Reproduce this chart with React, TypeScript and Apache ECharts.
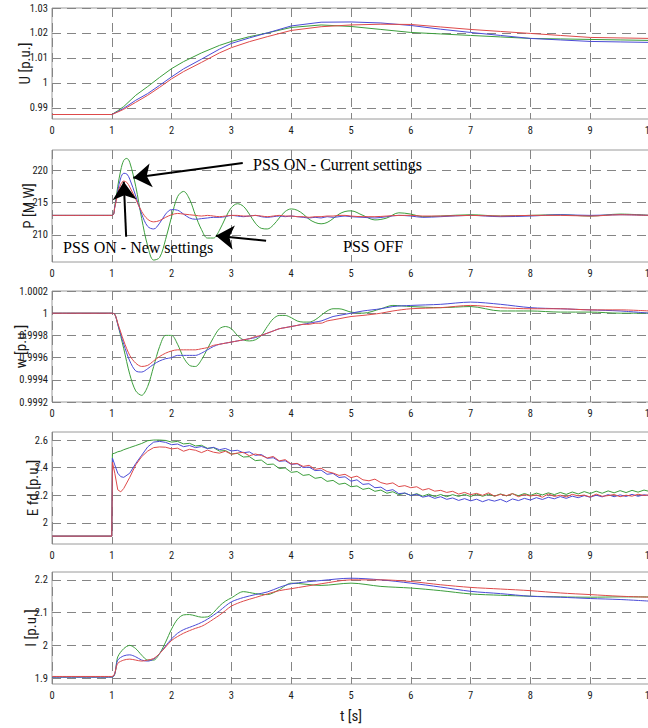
import { useEffect, useRef } from "react";
import * as echarts from "echarts";

// colours of the three cases
const GREEN = "#3c9e3c";
const BLUE = "#4b4bd6";
const RED = "#de4a4a";

const seriesNames = ["PSS OFF", "PSS ON - Current settings", "PSS ON - New settings"];

// U [p.u.]
const uTimes = [0, 1, 1.1, 1.2, 1.4, 1.6, 1.8, 2, 2.2, 2.5, 2.8, 3, 3.3, 3.6, 4, 4.5, 5, 5.5, 6, 6.5, 7, 7.5, 8, 8.5, 9, 9.5, 10];
const uGreen = [0.9873, 0.9873, 0.9888, 0.9905, 0.995, 0.9985, 1.0022, 1.0057, 1.0085, 1.012, 1.015, 1.0166, 1.0185, 1.02, 1.0222, 1.0232, 1.0226, 1.0214, 1.0202, 1.0196, 1.019, 1.0184, 1.0178, 1.0176, 1.0174, 1.0172, 1.017];
const uBlue = [0.9873, 0.9873, 0.9885, 0.9898, 0.993, 0.9957, 0.999, 1.0024, 1.0056, 1.0095, 1.0135, 1.0158, 1.018, 1.02, 1.0228, 1.0243, 1.0244, 1.024, 1.023, 1.0215, 1.0202, 1.019, 1.0178, 1.0172, 1.0166, 1.0164, 1.0162];
const uRed = [0.9873, 0.9873, 0.9883, 0.9894, 0.9922, 0.995, 0.9982, 1.0016, 1.0045, 1.0082, 1.012, 1.0141, 1.0165, 1.0185, 1.021, 1.0225, 1.0232, 1.0235, 1.0234, 1.0224, 1.0214, 1.0206, 1.0198, 1.019, 1.0182, 1.018, 1.0178];

// P [MW]
const pTimes = [0, 1, 1.05, 1.1, 1.15, 1.2, 1.25, 1.3,
  1.4, 1.5, 1.6, 1.7, 1.8, 1.9, 2, 2.1, 2.2, 2.3,
  2.4, 2.5, 2.6, 2.7, 2.8, 2.9, 3, 3.1, 3.2, 3.3,
  3.4, 3.5, 3.6, 3.7, 3.8, 3.9, 4, 4.1, 4.2, 4.3,
  4.4, 4.5, 4.6, 4.7, 4.8, 4.9, 5,
  5.2, 5.4, 5.6, 5.8, 6, 6.2,
  6.5, 7, 7.5, 8, 8.5, 9, 9.5, 10];
const pGreen = [213, 213, 214.5, 217.5, 220, 221.5, 221.8, 221.2,
  217.5, 212.5, 208.3, 206.1, 206.5, 209.3, 212.8, 215.9, 216.7, 215.5,
  213, 210.8, 209.5, 209.5, 210.7, 212.6, 214.2, 214.8, 214.4, 213.2,
  211.8, 211, 210.9, 211.5, 212.6, 213.6, 214, 213.8, 213.2, 212.4,
  211.9, 211.7, 211.9, 212.5, 213.2, 213.6, 213.7,
  213, 212.3, 212.6, 213.4, 213.2, 212.8,
  212.9, 213.1, 212.9, 213, 213.1, 212.9, 213.2, 213];
const pBlue = [213, 213, 214.3, 216.8, 218.8, 219.5, 219.4, 218.6,
  216, 213.2, 211.3, 210.9, 211.8, 213.2, 213.9, 213.8, 213.2, 212.6,
  212.4, 212.5, 212.6, 212.7, 212.7, 212.8, 213, 212.9, 212.8, 212.9,
  213, 212.8, 212.7, 212.8, 212.9, 212.8, 212.9, 212.8, 212.7, 212.6,
  212.7, 212.6, 212.8, 212.7, 212.8, 212.9, 212.8,
  212.7, 212.6, 212.8, 213, 212.9, 212.7,
  212.8, 213, 212.8, 212.9, 213.1, 213, 213.1, 213];
const pRed = [213, 213, 214.2, 216.4, 217.8, 218.3, 218.1, 217.4,
  215.5, 213.6, 212.4, 212, 212.2, 212.7, 213.1, 213.3, 213.2, 213.1,
  213, 212.9, 213, 212.9, 212.8, 212.9, 213, 213, 212.9, 212.9,
  213, 212.9, 212.8, 212.9, 213, 212.9, 212.9, 212.8, 212.8, 212.7,
  212.8, 212.8, 212.9, 212.9, 213, 213, 212.9,
  212.8, 212.8, 212.9, 213, 213, 212.9,
  212.9, 213, 212.9, 213, 213, 212.9, 213.1, 213];

// w [p.u.]
const wTimes = [0, 1, 1.05,
  1.1, 1.2, 1.3, 1.4, 1.5, 1.6, 1.7, 1.8, 1.9, 2,
  2.1, 2.2, 2.3, 2.4, 2.5, 2.6, 2.7, 2.8, 2.9, 3,
  3.1, 3.2, 3.3, 3.4, 3.5, 3.6, 3.7, 3.8, 3.9, 4,
  4.1, 4.2, 4.3, 4.4, 4.5, 4.6, 4.7, 4.8,
  5, 5.2, 5.5, 5.7, 6,
  6.5, 7, 7.5, 8, 8.5, 9, 9.5, 10];
const wGreen = [1, 1, 0.99999,
  0.9999, 0.99968, 0.99945, 0.9993, 0.99926, 0.99934, 0.99952, 0.9997, 0.9998, 0.9998,
  0.99972, 0.9996, 0.99953, 0.99952, 0.99958, 0.99968, 0.99978, 0.99986, 0.99988, 0.99986,
  0.9998, 0.99976, 0.99975, 0.99976, 0.9998, 0.99988, 0.99995, 0.99998, 0.99998, 0.99996,
  0.99993, 0.99992, 0.99992, 0.99994, 0.99998, 1.00002, 1.00004, 1.00004,
  1.00001, 1.0, 1.00004, 1.00007, 1.00006,
  1.00005, 1.00006, 1.00002, 1.00002, 1.00001, 1.00001, 1.0, 1.0];
const wBlue = [1, 1, 0.99999,
  0.9999, 0.99972, 0.99957, 0.99948, 0.99947, 0.9995, 0.99954, 0.99957, 0.99959, 0.9996,
  0.99962, 0.99962, 0.99962, 0.99962, 0.99964, 0.99967, 0.9997, 0.99972, 0.99973, 0.99974,
  0.99975, 0.99976, 0.99977, 0.99978, 0.9998, 0.99982, 0.99984, 0.99986, 0.99987, 0.99988,
  0.99989, 0.9999, 0.99991, 0.99992, 0.99993, 0.99995, 0.99997, 0.99998,
  1.0, 1.00002, 1.00004, 1.00006, 1.00007,
  1.00008, 1.0001, 1.00008, 1.00005, 1.00004, 1.00003, 1.00002, 1.0];
const wRed = [1, 1, 0.99999,
  0.99991, 0.99975, 0.99962, 0.99955, 0.99952, 0.99953, 0.99957, 0.99961, 0.99964, 0.99966,
  0.99967, 0.99967, 0.99967, 0.99967, 0.99968, 0.99969, 0.99971, 0.99972, 0.99973, 0.99974,
  0.99975, 0.99976, 0.99977, 0.99979, 0.9998, 0.99982, 0.99984, 0.99986, 0.99987, 0.99988,
  0.99989, 0.9999, 0.9999, 0.99991, 0.99991, 0.99993, 0.99994, 0.99995,
  0.99997, 0.99998, 1.0, 1.00002, 1.00004,
  1.00005, 1.00007, 1.00005, 1.00004, 1.00004, 1.00003, 1.00003, 1.00002];

// Efd [p.u.]
const efdTimes = [0, 1, 1.01, 1.05, 1.1, 1.15, 1.2, 1.3, 1.4, 1.5, 1.6, 1.7, 1.8,
  1.9, 2, 2.1, 2.2, 2.3, 2.4, 2.5, 2.6, 2.7, 2.8,
  2.9, 3, 3.1, 3.2, 3.3, 3.4, 3.5, 3.6, 3.7, 3.8,
  3.9, 4, 4.1, 4.2, 4.3, 4.4, 4.5, 4.6, 4.7, 4.8,
  4.9, 5, 5.1, 5.2, 5.3, 5.4, 5.5, 5.6, 5.7, 5.8,
  5.9, 6, 6.1, 6.2, 6.3, 6.4, 6.5, 6.6, 6.7, 6.8,
  6.9, 7, 7.1, 7.2, 7.3, 7.4, 7.5, 7.6, 7.7, 7.8,
  7.9, 8, 8.1, 8.2, 8.3, 8.4, 8.5, 8.6, 8.7, 8.8,
  8.9, 9, 9.1, 9.2, 9.3, 9.4, 9.5, 9.6, 9.7, 9.8,
  9.9, 10];
const efdGreen = [1.905, 1.905, 2.5, 2.505, 2.515, 2.52, 2.53, 2.545, 2.56, 2.575, 2.595, 2.6, 2.6,
  2.597, 2.585, 2.590, 2.572, 2.576, 2.557, 2.562, 2.540, 2.545, 2.520,
  2.524, 2.499, 2.503, 2.477, 2.480, 2.451, 2.455, 2.423, 2.426, 2.394,
  2.398, 2.366, 2.372, 2.344, 2.350, 2.323, 2.330, 2.301, 2.308, 2.280,
  2.288, 2.262, 2.268, 2.243, 2.252, 2.229, 2.238, 2.215, 2.226, 2.204,
  2.216, 2.199, 2.212, 2.194, 2.209, 2.191, 2.206, 2.190, 2.205, 2.192,
  2.207, 2.191, 2.209, 2.193, 2.208, 2.194, 2.210, 2.196, 2.212, 2.197,
  2.213, 2.199, 2.216, 2.203, 2.218, 2.205, 2.221, 2.207, 2.224, 2.210,
  2.227, 2.213, 2.230, 2.215, 2.232, 2.218, 2.234, 2.220, 2.236, 2.223,
  2.238, 2.227];
const efdBlue = [1.905, 1.905, 2.47, 2.42, 2.36, 2.335, 2.33, 2.36, 2.43, 2.49, 2.55, 2.585, 2.59,
  2.583, 2.566, 2.571, 2.552, 2.560, 2.545, 2.553, 2.538, 2.547, 2.530,
  2.539, 2.521, 2.526, 2.508, 2.514, 2.489, 2.495, 2.468, 2.472, 2.446,
  2.450, 2.424, 2.428, 2.401, 2.404, 2.379, 2.382, 2.352, 2.358, 2.329,
  2.334, 2.302, 2.312, 2.279, 2.284, 2.255, 2.259, 2.232, 2.241, 2.212,
  2.217, 2.199, 2.208, 2.187, 2.196, 2.178, 2.190, 2.171, 2.181, 2.163,
  2.176, 2.160, 2.172, 2.154, 2.169, 2.158, 2.171, 2.152, 2.174, 2.162,
  2.178, 2.166, 2.183, 2.170, 2.186, 2.175, 2.191, 2.178, 2.194, 2.183,
  2.198, 2.186, 2.201, 2.189, 2.205, 2.190, 2.203, 2.192, 2.207, 2.193,
  2.204, 2.197];
const efdRed = [1.905, 1.905, 2.44, 2.36, 2.24, 2.225, 2.25, 2.33, 2.42, 2.48, 2.52, 2.545, 2.55,
  2.548, 2.536, 2.541, 2.519, 2.533, 2.526, 2.509, 2.527, 2.512, 2.505,
  2.519, 2.497, 2.506, 2.511, 2.486, 2.499, 2.488, 2.470, 2.481, 2.449,
  2.458, 2.426, 2.431, 2.409, 2.417, 2.388, 2.396, 2.372, 2.361, 2.344,
  2.352, 2.328, 2.339, 2.312, 2.305, 2.317, 2.292, 2.281, 2.290, 2.263,
  2.270, 2.255, 2.262, 2.238, 2.249, 2.230, 2.236, 2.221, 2.229, 2.209,
  2.221, 2.205, 2.214, 2.200, 2.218, 2.194, 2.207, 2.198, 2.212, 2.190,
  2.206, 2.195, 2.203, 2.186, 2.210, 2.192, 2.201, 2.189, 2.207, 2.196,
  2.202, 2.188, 2.209, 2.193, 2.198, 2.206, 2.190, 2.201, 2.194, 2.208,
  2.199, 2.204];

// I [p.u.]
const iTimes = [0, 1,
  1.1, 1.2, 1.3, 1.4, 1.5, 1.6, 1.7, 1.8, 1.9, 2,
  2.1, 2.2, 2.3, 2.4, 2.5, 2.6, 2.7, 2.8, 2.9, 3,
  3.2, 3.4, 3.6, 3.8, 4,
  4.5, 5, 5.5, 6, 6.5, 7, 7.5, 8, 8.5, 9, 9.5, 10];
const iGreen = [1.903, 1.903,
  1.965, 1.99, 2.0, 1.99, 1.97, 1.955, 1.955, 1.975, 2.01, 2.05,
  2.08, 2.093, 2.094, 2.09, 2.086, 2.087, 2.1, 2.12, 2.135, 2.145,
  2.164, 2.158, 2.155, 2.17, 2.19,
  2.183, 2.19, 2.18, 2.175, 2.167, 2.157, 2.153, 2.15, 2.148, 2.147, 2.148, 2.148];
const iBlue = [1.903, 1.903,
  1.955, 1.968, 1.971, 1.965, 1.955, 1.952, 1.958, 1.975, 1.998, 2.02,
  2.037, 2.048, 2.055, 2.062, 2.07, 2.08, 2.092, 2.105, 2.12, 2.133,
  2.146, 2.155, 2.163, 2.177, 2.188,
  2.198, 2.205, 2.2, 2.19, 2.178, 2.165, 2.158, 2.15, 2.147, 2.143, 2.14, 2.135];
const iRed = [1.905, 1.905,
  1.945, 1.955, 1.958, 1.955, 1.952, 1.955, 1.96, 1.975, 1.995, 2.015,
  2.027, 2.037, 2.045, 2.052, 2.058, 2.068, 2.08, 2.092, 2.106, 2.12,
  2.135, 2.146, 2.157, 2.167, 2.173,
  2.188, 2.2, 2.2, 2.195, 2.185, 2.177, 2.172, 2.167, 2.16, 2.155, 2.15, 2.147];

// tick labels
const xTicks = [0, 1, 2, 3, 4, 5, 6, 7, 8, 9, 10];
const uTicks = [0.99, 1, 1.01, 1.02, 1.03];
const pTicks = [210, 215, 220];
const wTicks = [0.9992, 0.9994, 0.9996, 0.9998, 1, 1.0002];
const efdTicks = [2, 2.2, 2.4, 2.6];
const iTicks = [1.9, 2, 2.1, 2.2];

// annotation arrows on the P panel: [t, P] tail -> head
const arrowTails = [[3.19, 221.1], [1.24, 209.7], [3.58, 209.1]];
const arrowHeads = [[1.36, 218.8], [1.2, 218.2], [2.74, 209.85]];

const panels = [
  { name: "U [p.u.]", times: uTimes, values: [uGreen, uBlue, uRed], ticks: uTicks, min: 0.9855, max: 1.03, smooth: false },
  { name: "P [M W]", times: pTimes, values: [pGreen, pBlue, pRed], ticks: pTicks, min: 205.8, max: 223.1, smooth: 0.35 },
  { name: "w [p.u.]", times: wTimes, values: [wGreen, wBlue, wRed], ticks: wTicks, min: 0.9992, max: 1.0002, smooth: 0.3 },
  { name: "E fd [p.u.]", times: efdTimes, values: [efdGreen, efdBlue, efdRed], ticks: efdTicks, min: 1.848, max: 2.658, smooth: false },
  { name: "I [p.u.]", times: iTimes, values: [iGreen, iBlue, iRed], ticks: iTicks, min: 1.882, max: 2.224, smooth: 0.3 }
];

// layout of each subplot (pixels)
const layout = [
  { top: 8, height: 111, nameGap: 20 },
  { top: 150, height: 112, nameGap: 16 },
  { top: 291, height: 111, nameGap: 24 },
  { top: 432, height: 112, nameGap: 12 },
  { top: 572, height: 112, nameGap: 14 }
];

const NARROW = '"Roboto Condensed", "DejaVu Sans Condensed", sans-serif';
const SERIF = '"Liberation Serif", "DejaVu Serif", serif';
const colors = [GREEN, BLUE, RED];

const dashed = { show: true, lineStyle: { color: "#858585", width: 1, type: [9, 6] } };

function fmt(v: number) {
  return String(parseFloat(v.toFixed(4)));
}

export default function App() {
  const ref = useRef<HTMLDivElement | null>(null);

  useEffect(() => {
    if (!ref.current) {
      return;
    }

    const chart = echarts.init(ref.current, null, { renderer: "svg" });

    const grid = layout.map((l) => ({
      left: 52,
      right: -2,
      top: l.top,
      height: l.height,
      show: true,
      containLabel: false,
      outerBoundsMode: "none",
      borderColor: "#9a9a9a",
      borderWidth: 1
    }));

    const xAxis = panels.map((_, i) => ({
      type: "value",
      gridIndex: i,
      min: 0,
      max: 10,
      interval: 1,
      axisLine: { show: false },
      axisTick: { show: false },
      splitLine: dashed,
      axisLabel: {
        color: "#1a1a1a",
        fontFamily: NARROW,
        fontSize: 10.5,
        margin: 6,
        formatter: (v: number) => (xTicks.includes(v) ? String(v) : "")
      },
      name: i === panels.length - 1 ? "t [s]" : "",
      nameLocation: "middle",
      nameGap: 24,
      nameMoveOverlap: false,
      nameTextStyle: { color: "#1a1a1a", fontFamily: NARROW, fontSize: 15 }
    }));

    const yAxis = panels.map((p, i) => ({
      type: "value",
      gridIndex: i,
      min: p.min,
      max: p.max,
      axisLine: { show: false },
      axisTick: { show: false, customValues: p.ticks },
      splitLine: dashed,
      axisLabel: {
        customValues: p.ticks,
        color: "#1a1a1a",
        fontFamily: NARROW,
        fontSize: 10.5,
        margin: 4,
        formatter: fmt
      },
      name: p.name,
      nameLocation: "middle",
      nameRotate: 90,
      nameGap: layout[i].nameGap,
      nameMoveOverlap: false,
      nameTextStyle: { color: "#1a1a1a", fontFamily: NARROW, fontSize: 15 }
    }));

    const series: any[] = [];
    panels.forEach((p, i) => {
      p.values.forEach((vals, k) => {
        series.push({
          type: "line",
          name: seriesNames[k],
          xAxisIndex: i,
          yAxisIndex: i,
          data: p.times.map((t, j) => [t, vals[j]]),
          symbol: "none",
          smooth: p.smooth,
          lineStyle: { color: colors[k], width: 1 },
          itemStyle: { color: colors[k] },
          z: 2 + k
        });
      });
    });

    // arrows on the P panel
    series[5].markLine = {
      silent: true,
      symbol: ["none", "arrow"],
      symbolSize: 18,
      label: { show: false },
      lineStyle: { color: "#000", width: 2, type: "solid" },
      itemStyle: { color: "#000" },
      data: arrowTails.map((tail, j) => [{ coord: tail }, { coord: arrowHeads[j] }])
    };

    chart.setOption({
      animation: false,
      backgroundColor: "#ffffff",
      grid,
      xAxis,
      yAxis,
      series,
      graphic: [
        {
          type: "text",
          left: 253,
          top: 156,
          z: 10,
          style: { text: "PSS ON - Current settings", font: `16px ${SERIF}`, fill: "#000" }
        },
        {
          type: "text",
          left: 63,
          top: 239,
          z: 10,
          style: { text: "PSS ON - New settings", font: `16px ${SERIF}`, fill: "#000" }
        },
        {
          type: "text",
          left: 343,
          top: 238,
          z: 10,
          style: { text: "PSS OFF", font: `16px ${SERIF}`, fill: "#000" }
        }
      ]
    });

    return () => {
      chart.dispose();
    };
  }, []);

  return (
    <div
      ref={ref}
      style={{ position: "fixed", left: 0, top: 0, width: 648, height: 728, background: "#fff" }}
    />
  );
}
